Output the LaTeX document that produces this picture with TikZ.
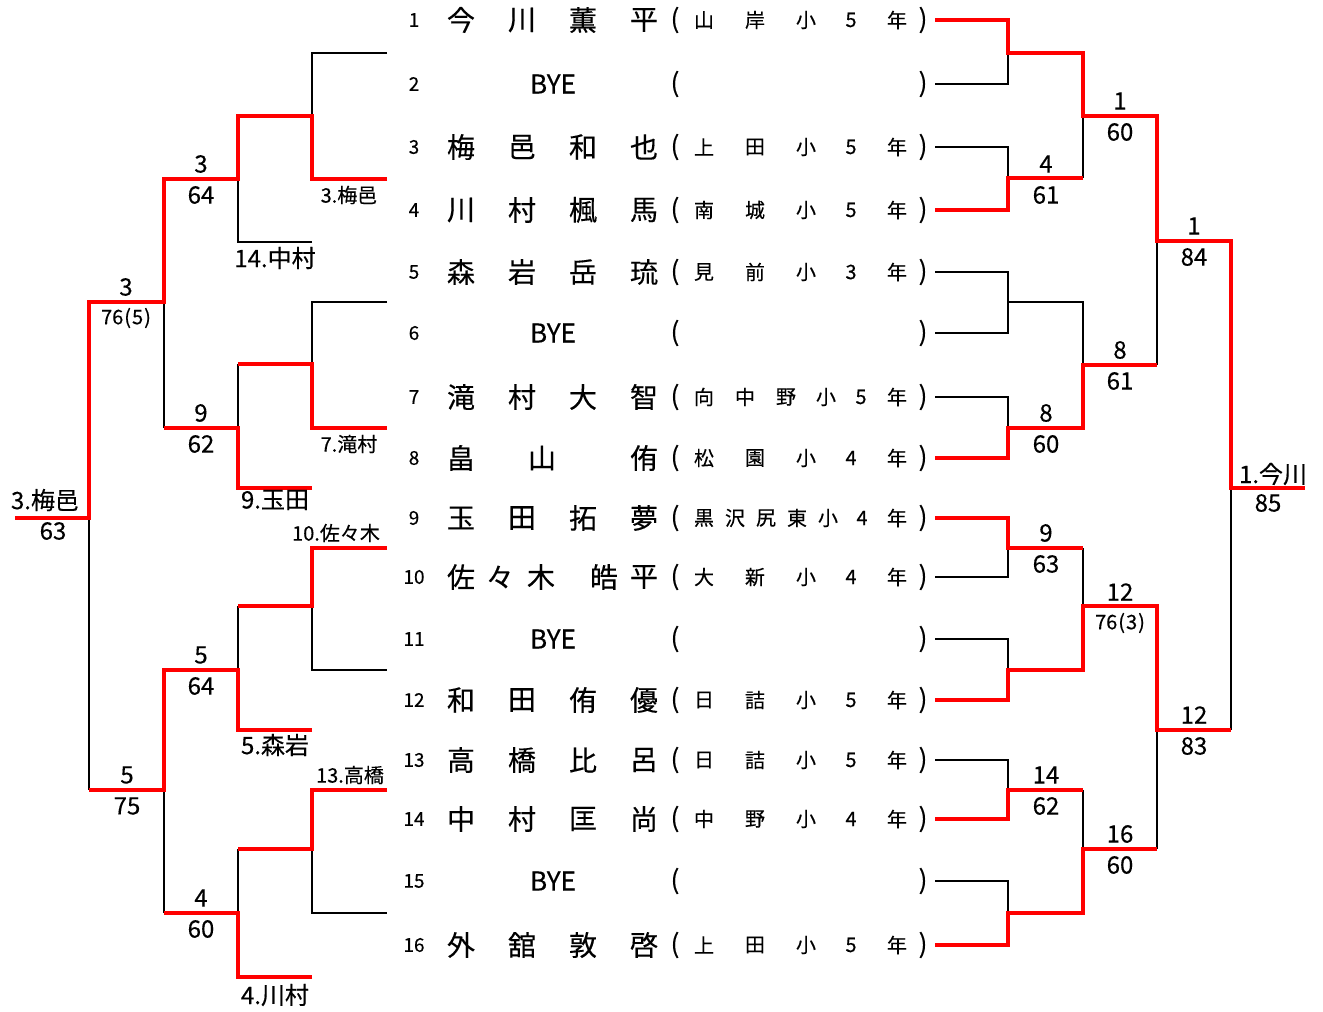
\documentclass[tikz,border=0pt]{standalone}
\usepackage{fontspec}
\newfontfamily\jp[FakeBold=0.3]{Noto Sans CJK JP}
\newcommand\fsz[1]{\jp\fontsize{#1}{#1}\selectfont}
\newcommand\playerrow[4]{%
  \node[numst] (num#1) at (414,#2) {#1};
  \foreach \c/\x [count=\i] in {#3} \node[nmst] (nm#1-\i) at (\x,#2) {\c};
  \foreach \c/\x [count=\i] in {#4} \node[scst] (sc#1-\i) at (\x,#2) {\c};
  \node[prst] (lp#1) at (675,#2) {(};
  \node[prst] (rp#1) at (923,#2) {)};
}
\newcommand\byerow[2]{%
  \node[numst] (num#1) at (414,#2) {#1};
  \node[byest] (bye#1) at (553,#2) {BYE};
  \node[prst] (lp#1) at (675,#2) {(};
  \node[prst] (rp#1) at (923,#2) {)};
}
\newcommand\scorelab[5]{% name, x, y(line), top, bottom
  \node[bigst] (#1t) at (#2,#3-15) {#4};
  \node[bigst] (#1b) at (#2,#3+16) {#5};
}
\begin{document}
\begin{tikzpicture}[x=1pt,y=-1pt,
  win/.style={draw=red, line width=3.2pt, line join=miter},
  lose/.style={draw=black, line width=1.6pt, line join=miter},
  nmst/.style={inner sep=0pt, font=\fsz{28}},
  scst/.style={inner sep=0pt, font=\fsz{20}},
  prst/.style={inner sep=0pt, font=\fsz{26}},
  numst/.style={inner sep=0pt, font=\fsz{19}},
  byest/.style={inner sep=0pt, font=\fsz{26}},
  bigst/.style={inner sep=0pt, font=\fsz{24}},
  smallst/.style={inner sep=0pt, font=\fsz{20}},
]
\useasboundingbox (0,0) rectangle (1323,1012);
\fill[white] (0,0) rectangle (1323,1012);

% ---------- entries ----------
\playerrow{1}{20}{今/461,川/522,薫/583,平/644}{山/704,岸/755,小/806,5/851,年/897}
\byerow{2}{84}
\playerrow{3}{147}{梅/461,邑/522,和/583,也/644}{上/704,田/755,小/806,5/851,年/897}
\playerrow{4}{210}{川/461,村/522,楓/583,馬/644}{南/704,城/755,小/806,5/851,年/897}
\playerrow{5}{272}{森/461,岩/522,岳/583,琉/644}{見/704,前/755,小/806,3/851,年/897}
\byerow{6}{333}
\playerrow{7}{397}{滝/461,村/522,大/583,智/644}{向/704,中/745,野/786,小/826,5/861,年/897}
\playerrow{8}{458}{畠/461,山/542,侑/644}{松/704,園/755,小/806,4/851,年/897}
\playerrow{9}{518}{玉/461,田/522,拓/583,夢/644}{黒/704,沢/735,尻/766,東/797,小/828,4/862,年/897}
\playerrow{10}{577}{佐/461,々/500,木/541,皓/604,平/644}{大/704,新/755,小/806,4/851,年/897}
\byerow{11}{639}
\playerrow{12}{700}{和/461,田/522,侑/583,優/644}{日/704,詰/755,小/806,5/851,年/897}
\playerrow{13}{760}{高/461,橋/522,比/583,呂/644}{日/704,詰/755,小/806,5/851,年/897}
\playerrow{14}{819}{中/461,村/522,匡/583,尚/644}{中/704,野/755,小/806,4/851,年/897}
\byerow{15}{881}
\playerrow{16}{945}{外/461,舘/522,敦/583,啓/644}{上/704,田/755,小/806,5/851,年/897}

% ---------- right bracket: black ----------
\draw[lose] (935,84)--(1008,84)--(1008,53);
\draw[lose] (935,147)--(1008,147)--(1008,178);
\draw[lose] (1083,116)--(1083,178);
\draw[lose] (935,272)--(1008,272)--(1008,333)--(935,333);
\draw[lose] (1008,302)--(1083,302)--(1083,365);
\draw[lose] (1157,241)--(1157,365);
\draw[lose] (935,397)--(1008,397)--(1008,428);
\draw[lose] (935,577)--(1008,577)--(1008,548);
\draw[lose] (1083,548)--(1083,606);
\draw[lose] (935,639)--(1008,639)--(1008,670);
\draw[lose] (1231,488)--(1231,730);
\draw[lose] (1157,730)--(1157,849);
\draw[lose] (935,760)--(1008,760)--(1008,790);
\draw[lose] (1083,790)--(1083,849);
\draw[lose] (935,881)--(1008,881)--(1008,913);

% ---------- left bracket: black ----------
\draw[lose] (387,53)--(312,53)--(312,116);
\draw[lose] (312,242)--(238,242)--(238,179);
\draw[lose] (164,302)--(164,428);
\draw[lose] (387,302)--(312,302)--(312,364);
\draw[lose] (238,364)--(238,428);
\draw[lose] (89,518)--(89,790);
\draw[lose] (312,606)--(312,670)--(387,670);
\draw[lose] (238,606)--(238,670);
\draw[lose] (164,790)--(164,913);
\draw[lose] (312,849)--(312,913)--(387,913);
\draw[lose] (238,849)--(238,913);

% ---------- right bracket: red ----------
\draw[win] (935,20)--(1008,20)--(1008,53)--(1083,53)--(1083,116)--(1157,116)--(1157,241)--(1231,241)--(1231,488)--(1305,488);
\draw[win] (935,210)--(1008,210)--(1008,178)--(1083,178);
\draw[win] (935,458)--(1008,458)--(1008,428)--(1083,428)--(1083,365)--(1157,365);
\draw[win] (935,518)--(1008,518)--(1008,548)--(1083,548);
\draw[win] (935,700)--(1008,700)--(1008,670)--(1083,670)--(1083,606)--(1157,606)--(1157,730)--(1231,730);
\draw[win] (935,819)--(1008,819)--(1008,790)--(1083,790);
\draw[win] (935,945)--(1008,945)--(1008,913)--(1083,913)--(1083,849)--(1157,849);

% ---------- left bracket: red ----------
\draw[win] (387,179)--(312,179)--(312,116)--(238,116)--(238,179)--(164,179)--(164,302)--(89,302)--(89,518)--(15,518);
\draw[win] (387,428)--(312,428)--(312,364)--(238,364);
\draw[win] (312,488)--(238,488)--(238,428)--(164,428);
\draw[win] (387,548)--(312,548)--(312,606)--(238,606);
\draw[win] (312,730)--(238,730)--(238,670)--(164,670)--(164,790)--(89,790);
\draw[win] (387,790)--(312,790)--(312,849)--(238,849);
\draw[win] (312,977)--(238,977)--(238,913)--(164,913);

% ---------- left labels ----------
\node[smallst] (lbA) at (349,195) {3.梅邑};
\node[bigst] (lbB) at (275,258) {14.中村};
\node[smallst] (lbC) at (349,444) {7.滝村};
\node[bigst] (lbD) at (275,500) {9.玉田};
\node[smallst] (lbE) at (336,533) {10.佐々木};
\node[bigst] (lbF) at (275,745) {5.森岩};
\node[smallst] (lbG) at (350,775) {13.高橋};
\node[bigst] (lbH) at (275,995) {4.川村};
\node[bigst] (lbI) at (45,500) {3.梅邑};
\node[bigst] (lbIs) at (53,531) {63};

\scorelab{sa}{201}{179}{3}{64}
\node[bigst] (sbt) at (126,287) {3};
\node[smallst] (sbb) at (126,318) {76\kern1pt(\kern1pt5\kern1pt)};
\scorelab{sc}{201}{428}{9}{62}
\scorelab{sd}{201}{670}{5}{64}
\scorelab{se}{127}{790}{5}{75}
\scorelab{sf}{201}{913}{4}{60}

% ---------- right labels ----------
\scorelab{ra}{1120}{116}{1}{60}
\scorelab{rb}{1046}{179}{4}{61}
\scorelab{rc}{1194}{241}{1}{84}
\scorelab{rd}{1120}{365}{8}{61}
\scorelab{re}{1046}{428}{8}{60}
\scorelab{rf}{1046}{548}{9}{63}
\node[bigst] (rgt) at (1120,592) {12};
\node[smallst] (rgb) at (1120,623) {76\kern1pt(\kern1pt3\kern1pt)};
\scorelab{rh}{1194}{730}{12}{83}
\scorelab{ri}{1046}{790}{14}{62}
\scorelab{rj}{1120}{849}{16}{60}
\node[bigst] (fin) at (1273,474) {1.今川};
\node[bigst] (fins) at (1268,503) {85};
\end{tikzpicture}
\end{document}
